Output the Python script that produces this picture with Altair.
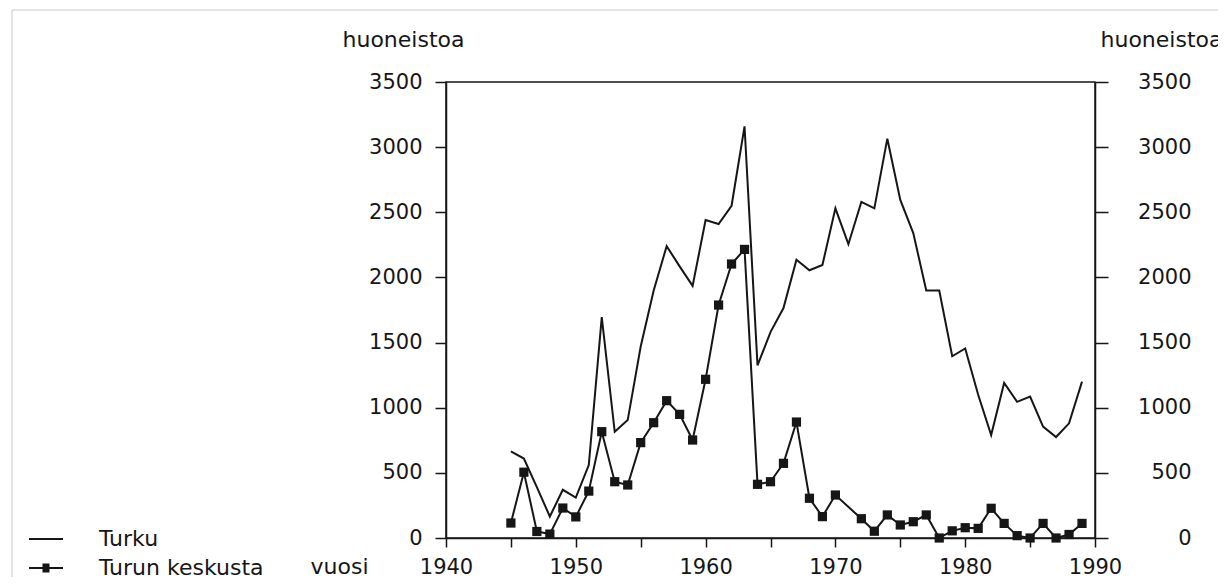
import altair as alt
import pandas as pd

# ---- data ----
series = ["Turku", "Turun keskusta"]

turku_years = list(range(1945, 1990))
turku = [665, 610, 390, 165, 370, 310, 560, 1695, 815, 905,
         1470, 1900, 2240, 2085, 1935, 2440, 2410, 2550, 3160, 1325,
         1580, 1765, 2135, 2055, 2095, 2530, 2255, 2580, 2530, 3065,
         2595, 2340, 1900, 1900, 1395, 1455, 1100, 790, 1190, 1045,
         1085, 855, 775, 880, 1200]

keskusta_years = [1945, 1946, 1947, 1948, 1949, 1950, 1951, 1952, 1953, 1954,
                  1955, 1956, 1957, 1958, 1959, 1960, 1961, 1962, 1963, 1964,
                  1965, 1966, 1967, 1968, 1969, 1970, 1972, 1973, 1974, 1975,
                  1976, 1977, 1978, 1979, 1980, 1981, 1982, 1983, 1984, 1985,
                  1986, 1987, 1988, 1989]
keskusta = [115, 505, 50, 30, 230, 162, 360, 816, 432, 407,
            732, 885, 1054, 949, 752, 1218, 1788, 2103, 2215, 412,
            432, 573, 890, 305, 164, 330, 148, 52, 177, 100,
            125, 177, 0, 55, 79, 74, 228, 112, 18, 0,
            112, 0, 27, 112]

x_ticks = list(range(1940, 1991, 5))
y_ticks = list(range(0, 3501, 500))

FONT = "DejaVu Sans"
INK = "#161616"
W, H = 649, 456

df_t = pd.DataFrame({"vuosi": turku_years, "arvo": turku, "sarja": series[0]})
df_k = pd.DataFrame({"vuosi": keskusta_years, "arvo": keskusta, "sarja": series[1]})
df_leg = pd.DataFrame({"sarja": series})
df_one = pd.DataFrame({"k": [0]})

xscale = alt.Scale(domain=[1940, 1990], nice=False, zero=False)
yscale = alt.Scale(domain=[0, 3500], nice=False)

xaxis = alt.Axis(values=x_ticks, format="d",
                 labelExpr="datum.value % 10 == 0 ? datum.label : ''",
                 tickSize=9, labelPadding=9, labelFlush=False,
                 labelOverlap=False, labelBound=False,
                 title="vuosi", titleX=-107, titleY=28,
                 titleAlign="center", titleBaseline="middle")

yaxis_left = alt.Axis(values=y_ticks, format="d", orient="left", tickSize=11,
                      labelPadding=13, labelFlush=False, labelOverlap=False,
                      title="huoneistoa", titleAngle=0, titleX=-43, titleY=-43,
                      titleAlign="center", titleBaseline="middle")

yaxis_right = alt.Axis(values=y_ticks, format="d", orient="right", tickSize=13,
                       labelPadding=83, labelAlign="right", labelFlush=False,
                       labelOverlap=False,
                       title="huoneistoa", titleAngle=0, titleX=66, titleY=-43,
                       titleAlign="center", titleBaseline="middle")

frame = alt.Chart(df_one).mark_rect(filled=False, stroke="#c8c8c8", strokeWidth=1).encode(
    x=alt.value(-434), x2=alt.value(775), y=alt.value(-72), y2=alt.value(520)
)

turku_line = alt.Chart(df_t).mark_line(color=INK, strokeWidth=2).encode(
    x=alt.X("vuosi:Q", scale=xscale, axis=xaxis),
    y=alt.Y("arvo:Q", scale=yscale, axis=yaxis_left),
)

k_line = alt.Chart(df_k).mark_line(color=INK, strokeWidth=2).encode(
    x=alt.X("vuosi:Q", scale=xscale, axis=xaxis),
    y=alt.Y("arvo:Q", scale=yscale, axis=yaxis_right),
)
k_pts = alt.Chart(df_k).mark_point(shape="square", filled=True, color=INK,
                                   size=85, opacity=1).encode(
    x=alt.X("vuosi:Q", scale=xscale, axis=xaxis),
    y=alt.Y("arvo:Q", scale=yscale, axis=yaxis_right),
)
keskusta_layer = alt.layer(k_line, k_pts)

# legend symbols (stroke-only paths; the square is built from dense strokes)
PATH_T = "M-1.7,0H1.7"
PATH_K = ("M-1.7,0H1.7"
          "M-0.35,-0.35H0.35M-0.35,-0.25H0.35M-0.35,-0.15H0.35M-0.35,-0.05H0.35"
          "M-0.35,0.05H0.35M-0.35,0.15H0.35M-0.35,0.25H0.35M-0.35,0.35H0.35")

# legend carrier: points placed far outside the view, only the legend shows
legend_layer = alt.Chart(df_leg).mark_point(filled=False, color=INK, opacity=1,
                                            strokeWidth=2).encode(
    x=alt.value(-5000), y=alt.value(-5000),
    shape=alt.Shape("sarja:N",
                    scale=alt.Scale(domain=series, range=[PATH_T, PATH_K]),
                    legend=alt.Legend(title=None, orient="none",
                                      legendX=-411, legendY=446,
                                      symbolSize=400, symbolStrokeWidth=2,
                                      symbolStrokeColor=INK,
                                      symbolOpacity=1,
                                      labelFont=FONT, labelFontSize=22,
                                      labelColor=INK, labelOffset=42,
                                      labelLimit=400,
                                      rowPadding=7, padding=0)),
)

chart = alt.layer(frame, turku_line, keskusta_layer, legend_layer).resolve_scale(
    y="independent"
).properties(
    width=W, height=H,
    padding={"left": 438, "top": 74, "right": 123, "bottom": 39},
    autosize=alt.AutoSizeParams(type="none"),
    background="white",
).configure_view(
    stroke=INK, strokeWidth=1.5
).configure_axis(
    labelFont=FONT, labelFontSize=21, labelColor=INK,
    titleFont=FONT, titleFontSize=22, titleFontWeight="normal", titleColor=INK,
    domainColor=INK, domainWidth=1.5, tickColor=INK, tickWidth=1.5, grid=False,
)

chart.save("out.html", embed_options={"renderer": "svg", "actions": False})
